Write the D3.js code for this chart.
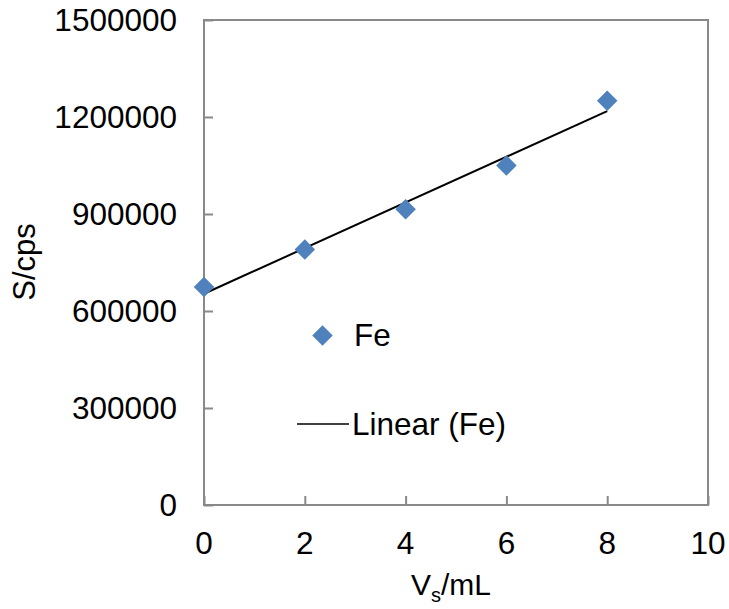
<!DOCTYPE html>
<html><head><meta charset="utf-8">
<script src="https://cdn.jsdelivr.net/npm/d3@7"></script>
<style>body{margin:0;background:#fff}svg{display:block}text{font-family:"Liberation Sans",Arial,sans-serif;fill:#000}</style>
</head><body>
<svg id="c" width="729" height="609"></svg>
<script>
const xValues = [0, 2, 4, 6, 8];
const feValues = [674000, 790000, 915000, 1050000, 1250000];
const xTicks = [0, 2, 4, 6, 8, 10];
const yTicks = [0, 300000, 600000, 900000, 1200000, 1500000];

const svg = d3.select("#c");
const L = 204, R = 708, T = 20, B = 505;
const x = d3.scaleLinear().domain([0, 10]).range([L, R]);
const y = d3.scaleLinear().domain([0, 1500000]).range([B, T]);
const axisColor = "#898989";

// frame
svg.append("rect").attr("x", L).attr("y", T).attr("width", R - L).attr("height", B - T)
  .attr("fill", "none").attr("stroke", axisColor).attr("stroke-width", 2);

const fs = 31.5;
const yAxis = svg.append("g").attr("transform", `translate(${L},0)`)
  .call(d3.axisRight(y).tickValues(yTicks).tickSize(9).tickFormat(""));
yAxis.select(".domain").remove();
yAxis.selectAll("line").attr("stroke", axisColor).attr("stroke-width", 2);
svg.append("g").selectAll("text").data(yTicks).join("text")
  .attr("x", 177).attr("y", d => y(d)).attr("dy", "0.35em")
  .attr("text-anchor", "end").attr("font-size", fs).text(d => d);

const xAxis = svg.append("g").attr("transform", `translate(0,${B})`)
  .call(d3.axisTop(x).tickValues(xTicks).tickSize(9).tickFormat(""));
xAxis.select(".domain").remove();
xAxis.selectAll("line").attr("stroke", axisColor).attr("stroke-width", 2);
svg.append("g").selectAll("text").data(xTicks).join("text")
  .attr("x", d => x(d)).attr("y", 554)
  .attr("text-anchor", "middle").attr("font-size", fs).text(d => d);

// axis titles
const xt = svg.append("text").attr("x", 451).attr("y", 595).attr("text-anchor", "middle").attr("font-size", 30);
xt.append("tspan").text("V");
xt.append("tspan").attr("font-size", 20).attr("dy", 7).text("s");
xt.append("tspan").attr("dy", -7).text("/mL");
svg.append("text").attr("transform", "translate(35,262) rotate(-90)")
  .attr("text-anchor", "middle").attr("font-size", 31).text("S/cps");

// linear regression (trendline)
const mx = d3.mean(xValues), my = d3.mean(feValues);
const slope = d3.sum(xValues, (v, i) => (v - mx) * (feValues[i] - my)) / d3.sum(xValues, v => (v - mx) ** 2);
const icpt = my - slope * mx;
const x0 = d3.min(xValues), x1 = d3.max(xValues);
svg.append("line").attr("x1", x(x0)).attr("y1", y(icpt + slope * x0))
  .attr("x2", x(x1)).attr("y2", y(icpt + slope * x1))
  .attr("stroke", "#000").attr("stroke-width", 2);

const diamond = d3.symbol().type(d3.symbolSquare).size(210);
svg.append("g").selectAll("path").data(xValues).join("path")
  .attr("d", diamond)
  .attr("transform", (d, i) => `translate(${x(d)},${y(feValues[i])}) rotate(45)`)
  .attr("fill", "#4F81BD");

// legend
svg.append("path").attr("d", diamond)
  .attr("transform", "translate(322.5,335.5) rotate(45)").attr("fill", "#4F81BD");
svg.append("text").attr("x", 354).attr("y", 346).attr("font-size", fs).text("Fe");
svg.append("line").attr("x1", 297).attr("x2", 349).attr("y1", 424).attr("y2", 424)
  .attr("stroke", "#000").attr("stroke-width", 1.5);
svg.append("text").attr("x", 352).attr("y", 435).attr("font-size", fs).text("Linear (Fe)");
</script>
</body></html>
